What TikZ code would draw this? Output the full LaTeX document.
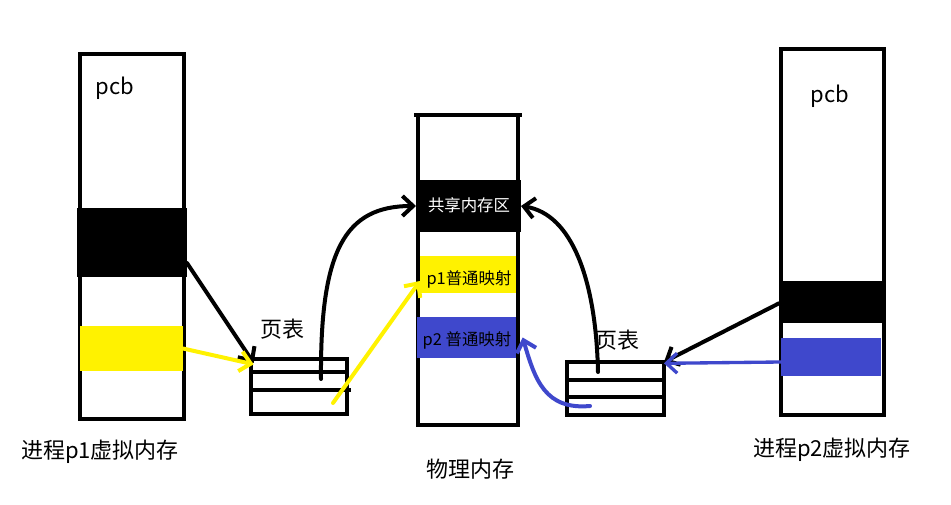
\documentclass[tikz,border=0pt]{standalone}
\usepackage{fontspec}
\setmainfont{Noto Sans CJK SC}
\usetikzlibrary{arrows.meta,fit,calc}
\definecolor{pyel}{RGB}{255,242,0}
\definecolor{pblue}{RGB}{63,72,204}
\begin{document}
\begin{tikzpicture}[x=0.75pt,y=-0.75pt,
  frame/.style={draw=black,line width=3pt,inner sep=0pt,outer sep=0pt,fill=white},
  band/.style={inner sep=0pt,outer sep=0pt,draw=none},
  lbl/.style={font=\fontsize{16.5pt}{19pt}\selectfont,inner sep=0pt},
  bandtxt/.style={font=\fontsize{12.3pt}{14pt}\selectfont,inner sep=0pt},
  row/.style={line width=3pt},
  arr/.style={line width=3pt,line cap=round,-{Straight Barb[length=8pt,width=15pt]}},
]
\useasboundingbox[fill=white] (0,0) rectangle (951,505);

% process p1 virtual memory
\node[frame,fit={(80,54) (184,419)}] (vm1) {};
\node[band,fill=black,fit={(77,208) (187,277)}] (blk1) {};
\node[band,fill=pyel,fit={(80,326) (183,371)}] (yel1) {};
\node[lbl] (pcb1) at (115,88) {pcb};
\node[lbl] (lab1) at (100,452) {进程p1虚拟内存};

% page table 1
\node[frame,fit={(251,359) (347,414)}] (pt1) {};
\draw[row] (pt1.west |- 0,372) -- (pt1.east |- 0,372);
\draw[row] (pt1.west |- 0,390) -- ([xshift=3pt]pt1.east |- 0,390);
\node[lbl] (ptl1) at (282,329) {页表};

% physical memory
\node[frame,fit={(418,115) (518,425)}] (mem) {};
\draw[line width=3pt] ([xshift=-3pt]mem.north west) -- ([xshift=3pt]mem.north east);
\node[band,fill=black,fit={(416,180) (521,232)}] (sh) {};
\node[bandtxt,text=white] (sht) at (469,205) {共享内存区};
\node[band,fill=pyel,fit={(420,256) (516,293)}] (yel2) {};
\node[bandtxt] (yt2) at (469,279) {p1普通映射};
\node[band,fill=pblue,fit={(417,317) (516,358)}] (blu2) {};
\node[bandtxt] (bt2) at (467,340) {p2 普通映射};
\node[lbl] (lab2) at (470,469) {物理内存};

% page table 2
\node[frame,fit={(567,362) (664,415)}] (pt2) {};
\draw[row] (pt2.west |- 0,380) -- (pt2.east |- 0,380);
\draw[row] (pt2.west |- 0,397) -- (pt2.east |- 0,397);
\node[lbl] (ptl2) at (617,340) {页表};

% process p2 virtual memory
\node[frame,fit={(781,49) (884,415)}] (vm2) {};
\node[band,fill=black,fit={(779,281) (886,323)}] (blk3) {};
\node[band,fill=pblue,fit={(781,338) (881,376)}] (blu3) {};
\node[lbl] (pcb2) at (830,96) {pcb};
\node[lbl] (lab3) at (832,450) {进程p2虚拟内存};

% connectors
\coordinate (c1) at (321,379);
\coordinate (c2) at (333,403);
\coordinate (c3) at (598,372);
\coordinate (c4) at (590,406);

\draw[arr] ([yshift=10.5pt]blk1.south east) -- ([xshift=2pt,yshift=-3pt]pt1.north west);
\draw[arr,pyel] (yel1.east) -- ([xshift=2pt,yshift=-4pt]pt1.north west);
\draw[arr] (c1) .. controls (320,250) and (345,206) .. (sh.west);
\draw[arr,pyel] (c2) -- ([yshift=9pt]yel2.south west);
\draw[arr] (c3) .. controls (596,280) and (572,214) .. (sh.east);
\draw[arr,pblue] (c4) .. controls (545,410) and (535,380) .. ([xshift=5pt]blu2.east);
\draw[arr] ([yshift=-1pt]blk3.west) -- (pt2.north east);
\draw[arr,pblue,line width=2.5pt] ([yshift=-3.75pt]blu3.west) -- ([yshift=-1pt]pt2.north east);
\end{tikzpicture}
\end{document}
